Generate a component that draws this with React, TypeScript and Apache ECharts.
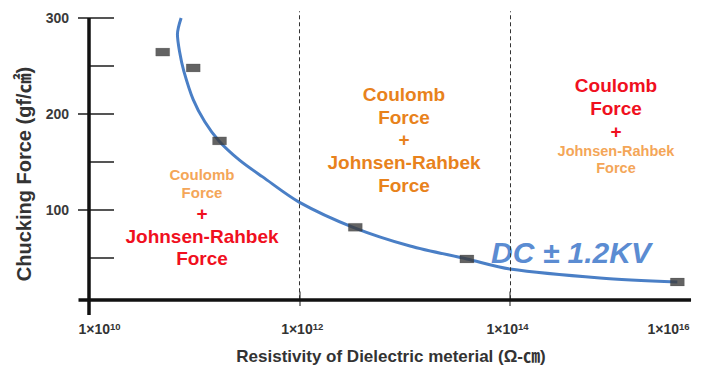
import React, { useEffect, useRef } from "react";
import * as echarts from "echarts";

// resistivity as log10 exponent (Ω·cm), chucking force (gf/cm²)
const curveExp = [10.875, 10.84, 10.86, 10.9, 10.99, 11.1, 11.235, 11.43, 11.65, 12.0, 12.51, 13.05, 13.59, 14.0, 14.855, 15.59];
const curveForce = [300, 283, 265, 245, 215, 192, 172, 152, 134.5, 108, 82, 62.5, 49, 38.5, 29.2, 25];

const measuredExp = [10.7, 10.99, 11.24, 12.53, 13.59, 15.59];
const measuredForce = [264.5, 248, 172, 82, 49, 25];

const xTickLabels = ["10", "12", "14", "16"];
const xLabelPos = [10.2, 12.125, 14.076, 15.606];
const xTickValues = [12, 14];
const yMinorTicks = [50, 100, 150, 200, 250, 300];
const yMajorTicks = [100, 200, 300];
const dividerExp = [12, 14];

const FONT = "'Liberation Sans', Arial, 'Noto Sans CJK KR', sans-serif";

export default function App() {
  const ref = useRef<HTMLDivElement>(null);
  useEffect(() => {
    if (!ref.current) return;
    const chart = echarts.init(ref.current, undefined, { renderer: "svg" });
    const X_MIN = 9.9, X_MAX = 15.75, Y_MIN = -10, Y_MAX = 307;
    const txt = (s: string, x: number, y: number, size: number, color: string, weight = "bold", style = "normal") => ({
      type: "text",
      x, y,
      style: { text: s, x: 0, y: 0, align: "center", verticalAlign: "middle", font: `${style} ${weight} ${size}px ${FONT}`, fill: color },
    });
    const lightOrange = "#F4A658";
    const red = "#F0101E";
    const orange = "#E8821C";
    const labelIndex = (v: number) => xLabelPos.findIndex((p) => Math.abs(p - v) < 1e-6);
    chart.setOption({
      animation: false,
      grid: { left: 78.5, right: 26.8, top: 11.3, bottom: 57.4, outerBoundsMode: "none", containLabel: false },
      xAxis: [
        {
          type: "value", position: "bottom", min: X_MIN, max: X_MAX,
          axisLine: { show: false },
          splitLine: { show: false },
          axisTick: { show: true, inside: true, length: 14.6, customValues: xTickValues, lineStyle: { color: "#666", width: 1.5 } },
          axisLabel: {
            customValues: xLabelPos, margin: 6, align: "right",
            fontSize: 14, fontWeight: "bold", color: "#333", fontFamily: "Arial",
            formatter: (v: number) => (labelIndex(v) >= 0 ? "1×10" : ""),
          },
        },
        {
          type: "value", position: "bottom", offset: 0, min: X_MIN, max: X_MAX,
          axisLine: { show: false },
          splitLine: { show: false },
          axisTick: { show: false },
          axisLabel: {
            customValues: xLabelPos, margin: 6, align: "left",
            fontSize: 9.5, fontWeight: "bold", color: "#333", fontFamily: "Arial",
            formatter: (v: number) => xTickLabels[labelIndex(v)] ?? "",
          },
        },
      ],
      yAxis: [
        {
          type: "value", position: "left", min: Y_MIN, max: Y_MAX, offset: -10.5,
          axisLine: { show: false }, splitLine: { show: false },
          axisTick: { show: true, inside: true, length: 25, customValues: yMinorTicks, lineStyle: { color: "#555", width: 2 } },
          axisLabel: { show: false },
        },
        {
          type: "value", position: "left", min: Y_MIN, max: Y_MAX, offset: -10.5,
          axisLine: { show: false }, splitLine: { show: false },
          axisTick: { show: true, inside: false, length: 11, customValues: yMajorTicks, lineStyle: { color: "#555", width: 2 } },
          axisLabel: { customValues: yMajorTicks, margin: 20, fontSize: 14, fontWeight: "bold", color: "#3a3a3a", fontFamily: "Arial" },
        },
      ],
      series: [
        {
          type: "line",
          data: curveExp.map((e, i) => [e, curveForce[i]]),
          smooth: 0.3,
          showSymbol: false,
          symbol: "none",
          lineStyle: { color: "#4A7FC6", width: 3 },
          z: 3,
          markLine: {
            silent: true,
            symbol: ["none", "none"],
            label: { show: false },
            data: [
              ...dividerExp.map((e) => [
                { coord: [e, 7], lineStyle: { color: "#333", width: 1, type: [4, 3] } },
                { coord: [e, Y_MAX] },
              ]),
              [
                { coord: [10, -9.4], lineStyle: { color: "#111", width: 3.5, type: "solid" } },
                { coord: [10, 300] },
              ],
              [
                { coord: [X_MIN, 7], lineStyle: { color: "#111", width: 3.5, type: "solid" } },
                { coord: [15.72, 7] },
              ],
            ],
          },
        },
        {
          type: "scatter",
          data: measuredExp.map((e, i) => [e, measuredForce[i]]),
          symbol: "rect",
          symbolSize: [14, 8],
          itemStyle: { color: "#3c3c3c", borderColor: "rgba(0,0,0,0.25)", borderWidth: 0.5 },
          z: 4,
        },
      ],
      graphic: [
        { type: "text", x: 24, y: 174, rotation: Math.PI / 2,
          style: { text: "Chucking Force (gf/㎠)", x: 0, y: 0, align: "center", verticalAlign: "middle", font: `bold 20px ${FONT}`, fill: "#333" } },
        txt("Resistivity of Dielectric meterial (Ω-㎝)", 391, 356, 17, "#333"),
        txt("Coulomb", 202, 174, 15, lightOrange),
        txt("Force", 202, 192, 15, lightOrange),
        txt("+", 202, 213, 19, red),
        txt("Johnsen-Rahbek", 202, 236, 19, red),
        txt("Force", 202, 258, 19, red),
        txt("Coulomb", 404, 94, 19, orange),
        txt("Force", 404, 117, 19, orange),
        txt("+", 404, 139, 19, orange),
        txt("Johnsen-Rahbek", 404, 162, 19, orange),
        txt("Force", 404, 185, 19, orange),
        txt("Coulomb", 616, 85, 19, red),
        txt("Force", 616, 108, 19, red),
        txt("+", 616, 131, 19, red),
        txt("Johnsen-Rahbek", 616, 151, 14.5, lightOrange),
        txt("Force", 616, 168, 14.5, lightOrange),
        txt("DC ± 1.2KV", 571, 252, 30, "#5B8CD2", "bold", "italic"),
      ],
    });
    return () => chart.dispose();
  }, []);
  return <div ref={ref} style={{ position: "absolute", left: 0, top: 0, width: 721, height: 373 }} />;
}
